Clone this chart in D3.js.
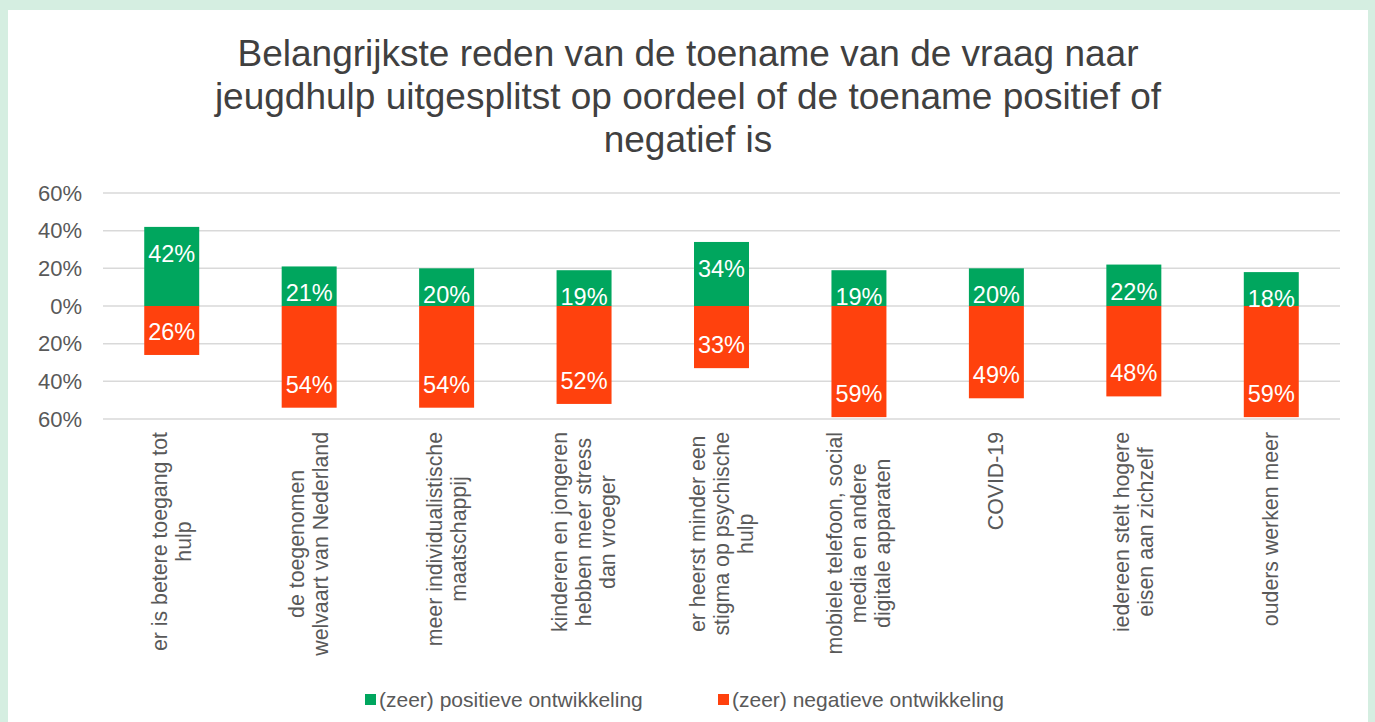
<!DOCTYPE html>
<html>
<head>
<meta charset="utf-8">
<script src="https://cdn.jsdelivr.net/npm/d3@7"></script>
<style>
  html, body { margin: 0; padding: 0; background: #d5eee1; }
  body { width: 1375px; height: 722px; overflow: hidden; }
  svg { display: block; font-family: "Liberation Sans", Arial, sans-serif; }
</style>
</head>
<body>
<div id="chart"></div>
<script>
var titleLines = [
  "Belangrijkste reden van de toename van de vraag naar",
  "jeugdhulp uitgesplitst op oordeel of de toename positief of",
  "negatief is"
];

// category labels, already wrapped as in the original
var categories = [
  ["er is betere toegang tot", "hulp"],
  ["de toegenomen", "welvaart van Nederland"],
  ["meer individualistische", "maatschappij"],
  ["kinderen en jongeren", "hebben meer stress", "dan vroeger"],
  ["er heerst minder een", "stigma op psychische", "hulp"],
  ["mobiele telefoon, social", "media en andere", "digitale apparaten"],
  ["COVID-19"],
  ["iedereen stelt hogere", "eisen aan zichzelf"],
  ["ouders werken meer"]
];

var positief = [42, 21, 20, 19, 34, 19, 20, 22, 18];
var negatief = [26, 54, 54, 52, 33, 59, 49, 48, 59];

var seriesNames = ["(zeer) positieve ontwikkeling", "(zeer) negatieve ontwikkeling"];
var seriesColors = ["#00a65e", "#ff410d"];

var yTicks = [60, 40, 20, 0, -20, -40, -60];

var width = 1375, height = 722;

var svg = d3.select("#chart")
  .append("svg")
  .attr("width", width)
  .attr("height", height);

// white panel on the green background
svg.append("rect")
  .attr("x", 8)
  .attr("y", 10)
  .attr("width", 1360)
  .attr("height", 720)
  .attr("fill", "#ffffff");

// title
svg.append("text")
  .attr("text-anchor", "middle")
  .attr("fill", "#404040")
  .style("font-size", "37px")
  .selectAll("tspan")
  .data(titleLines)
  .enter().append("tspan")
    .attr("x", 688)
    .attr("y", function(d, i) { return 66 + i * 43; })
    .text(function(d) { return d; });

var x = d3.scaleBand()
  .domain(d3.range(categories.length))
  .range([103, 1340])
  .paddingInner(0.6)
  .paddingOuter(0.3);

var y = d3.scaleLinear()
  .domain([-60, 60])
  .range([419, 193]);

// gridlines
svg.append("g")
  .selectAll("line")
  .data(yTicks)
  .enter().append("line")
    .attr("x1", 103)
    .attr("x2", 1340)
    .attr("y1", function(d) { return y(d); })
    .attr("y2", function(d) { return y(d); })
    .attr("stroke", "#d9d9d9")
    .attr("stroke-width", 1.5);

// y axis labels (absolute values)
var yAxis = d3.axisLeft(y)
  .tickValues(yTicks)
  .tickSize(0)
  .tickPadding(0)
  .tickFormat(function(d) { return Math.abs(d) + "%"; });

var yg = svg.append("g")
  .attr("transform", "translate(82,0)")
  .call(yAxis);
yg.select(".domain").remove();
yg.selectAll("text")
  .attr("fill", "#595959")
  .style("font-size", "22px")
  .style("font-family", "Liberation Sans, Arial, sans-serif");

// bars
var bars = svg.append("g");

bars.selectAll("rect.pos")
  .data(positief)
  .enter().append("rect")
    .attr("class", "pos")
    .attr("x", function(d, i) { return x(i); })
    .attr("width", x.bandwidth())
    .attr("y", function(d) { return y(d); })
    .attr("height", function(d) { return y(0) - y(d); })
    .attr("fill", seriesColors[0]);

bars.selectAll("rect.neg")
  .data(negatief)
  .enter().append("rect")
    .attr("class", "neg")
    .attr("x", function(d, i) { return x(i); })
    .attr("width", x.bandwidth())
    .attr("y", y(0))
    .attr("height", function(d) { return y(-d) - y(0); })
    .attr("fill", seriesColors[1]);

// value labels, inside end
bars.selectAll("text.pos")
  .data(positief)
  .enter().append("text")
    .attr("class", "pos")
    .attr("x", function(d, i) { return x(i) + x.bandwidth() / 2; })
    .attr("y", function(d) { return y(d) + 35; })
    .attr("text-anchor", "middle")
    .attr("fill", "#ffffff")
    .style("font-size", "23.5px")
    .text(function(d) { return d + "%"; });

bars.selectAll("text.neg")
  .data(negatief)
  .enter().append("text")
    .attr("class", "neg")
    .attr("x", function(d, i) { return x(i) + x.bandwidth() / 2; })
    .attr("y", function(d) { return y(-d) - 15; })
    .attr("text-anchor", "middle")
    .attr("fill", "#ffffff")
    .style("font-size", "23.5px")
    .text(function(d) { return d + "%"; });

// category labels, rotated, lines centred within a block that hangs from the axis
var lineH = 24;
var cats = svg.append("g");
categories.forEach(function(lines, i) {
  var cx = x(i) + x.bandwidth() / 2;
  var g = cats.append("g")
    .attr("transform", "translate(" + cx + ",432) rotate(-90)");
  var t = g.append("text")
    .attr("fill", "#595959")
    .style("font-size", "21.3px")
    .attr("text-anchor", "middle");
  var spans = t.selectAll("tspan")
    .data(lines)
    .enter().append("tspan")
      .attr("x", 0)
      .attr("y", function(d, j) { return (j - (lines.length - 1) / 2) * lineH + 7; })
      .text(function(d) { return d; });
  var maxW = 0;
  spans.each(function() { maxW = Math.max(maxW, this.getComputedTextLength()); });
  spans.attr("x", -maxW / 2);
});

// legend
var legendX = [365, 718];
var legend = svg.append("g");
seriesNames.forEach(function(name, i) {
  legend.append("rect")
    .attr("x", legendX[i])
    .attr("y", 694)
    .attr("width", 11)
    .attr("height", 11)
    .attr("fill", seriesColors[i]);
  legend.append("text")
    .attr("x", legendX[i] + 14)
    .attr("y", 707)
    .attr("fill", "#595959")
    .style("font-size", "21px")
    .text(name);
});
</script>
</body>
</html>
